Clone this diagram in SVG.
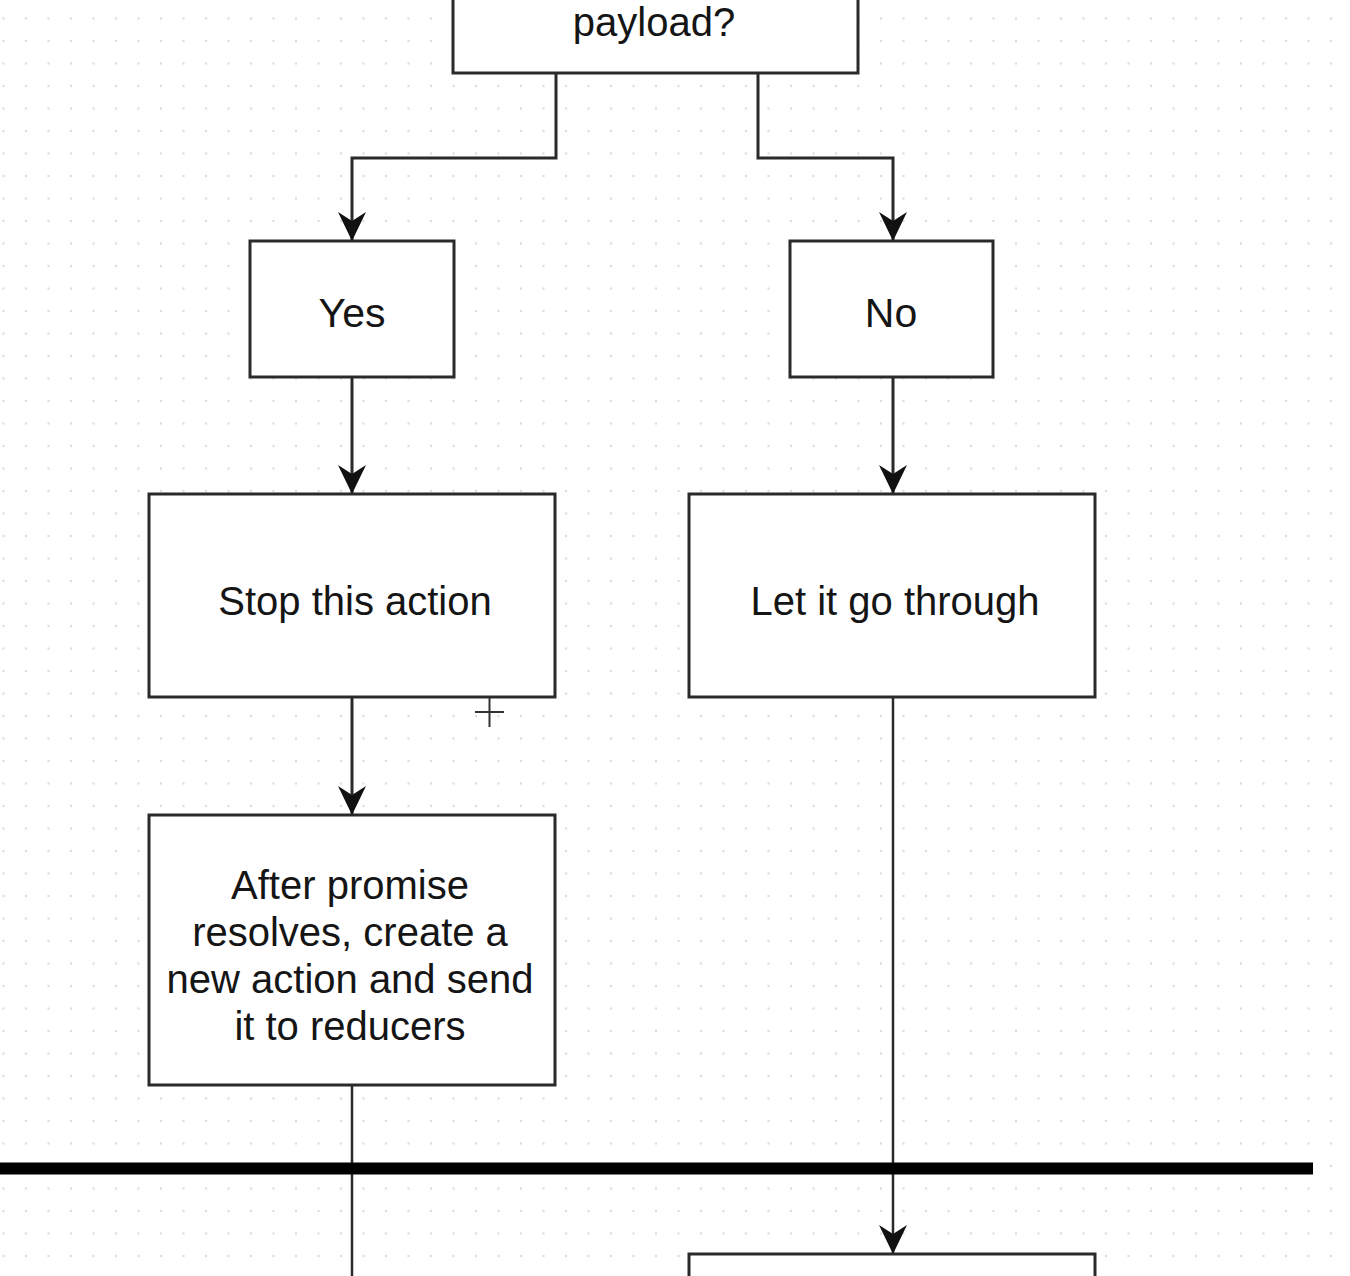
<svg xmlns="http://www.w3.org/2000/svg" width="1350" height="1276" viewBox="0 0 1350 1276">
<defs>
<pattern id="grid" x="3.5" y="18.5" width="22.5" height="22.5" patternUnits="userSpaceOnUse">
<circle cx="0" cy="0" r="1.2" fill="#dcdcdc"/>
<circle cx="22.5" cy="0" r="1.2" fill="#dcdcdc"/>
<circle cx="0" cy="22.5" r="1.2" fill="#dcdcdc"/>
<circle cx="22.5" cy="22.5" r="1.2" fill="#dcdcdc"/>
</pattern>
<marker id="arr" markerUnits="userSpaceOnUse" markerWidth="32" markerHeight="32" viewBox="-31 -16 32 32" refX="0" refY="0" orient="auto">
<path d="M0,0 L-29,-14 L-20,0 L-29,14 Z" fill="#111"/>
</marker>
<style>
.box{fill:#fff;stroke:#2a2a2a;stroke-width:3}
.lbl{font-family:"Liberation Sans",Arial,Helvetica,sans-serif;font-size:40px;fill:#151515;text-anchor:middle}
.con{fill:none;stroke:#2a2a2a;stroke-width:3}
</style>
</defs>
<rect width="1350" height="1276" fill="#fff"/>
<rect width="1350" height="1276" fill="url(#grid)"/>

<g id="connectors">
<path class="con" d="M556,73 V158 H352 V241" marker-end="url(#arr)"/>
<path class="con" d="M758,73 V158 H893 V241" marker-end="url(#arr)"/>
<path class="con" d="M352,377 V494" marker-end="url(#arr)"/>
<path class="con" d="M893,377 V494" marker-end="url(#arr)"/>
<path class="con" d="M352,697 V815" marker-end="url(#arr)"/>
<path class="con" d="M893,697 V1254" marker-end="url(#arr)" style="stroke-width:2.5"/>
<path class="con" d="M352,1085 V1276" style="stroke-width:2.5"/>
</g>

<g id="divider">
<line x1="0" y1="1168.5" x2="1313" y2="1168.5" stroke="#000" stroke-width="12"/>
</g>

<g id="node-question">
<rect class="box" x="453" y="-20" width="405" height="93"/>
<text class="lbl" x="654" y="36">payload?</text>
</g>
<g id="node-yes">
<rect class="box" x="250" y="241" width="204" height="136"/>
<text class="lbl" x="352" y="327" style="font-size:41px">Yes</text>
</g>
<g id="node-no">
<rect class="box" x="790" y="241" width="203" height="136"/>
<text class="lbl" x="891" y="327" style="font-size:41px">No</text>
</g>
<g id="node-stop">
<rect class="box" x="149" y="494" width="406" height="203"/>
<text class="lbl" x="355" y="615">Stop this action</text>
</g>
<g id="node-let">
<rect class="box" x="689" y="494" width="406" height="203"/>
<text class="lbl" x="895" y="615">Let it go through</text>
</g>
<g id="node-after">
<rect class="box" x="149" y="815" width="406" height="270"/>
<text class="lbl" x="350" y="899">After promise</text>
<text class="lbl" x="350" y="946">resolves, create a</text>
<text class="lbl" x="350" y="993">new action and send</text>
<text class="lbl" x="350" y="1040">it to reducers</text>
</g>
<g id="node-bottom">
<rect class="box" x="689" y="1254" width="406" height="60"/>
</g>

<g id="cursor" stroke="#333" stroke-width="2">
<line x1="489.5" y1="698" x2="489.5" y2="727"/>
<line x1="475" y1="712" x2="504" y2="712"/>
</g>
</svg>
